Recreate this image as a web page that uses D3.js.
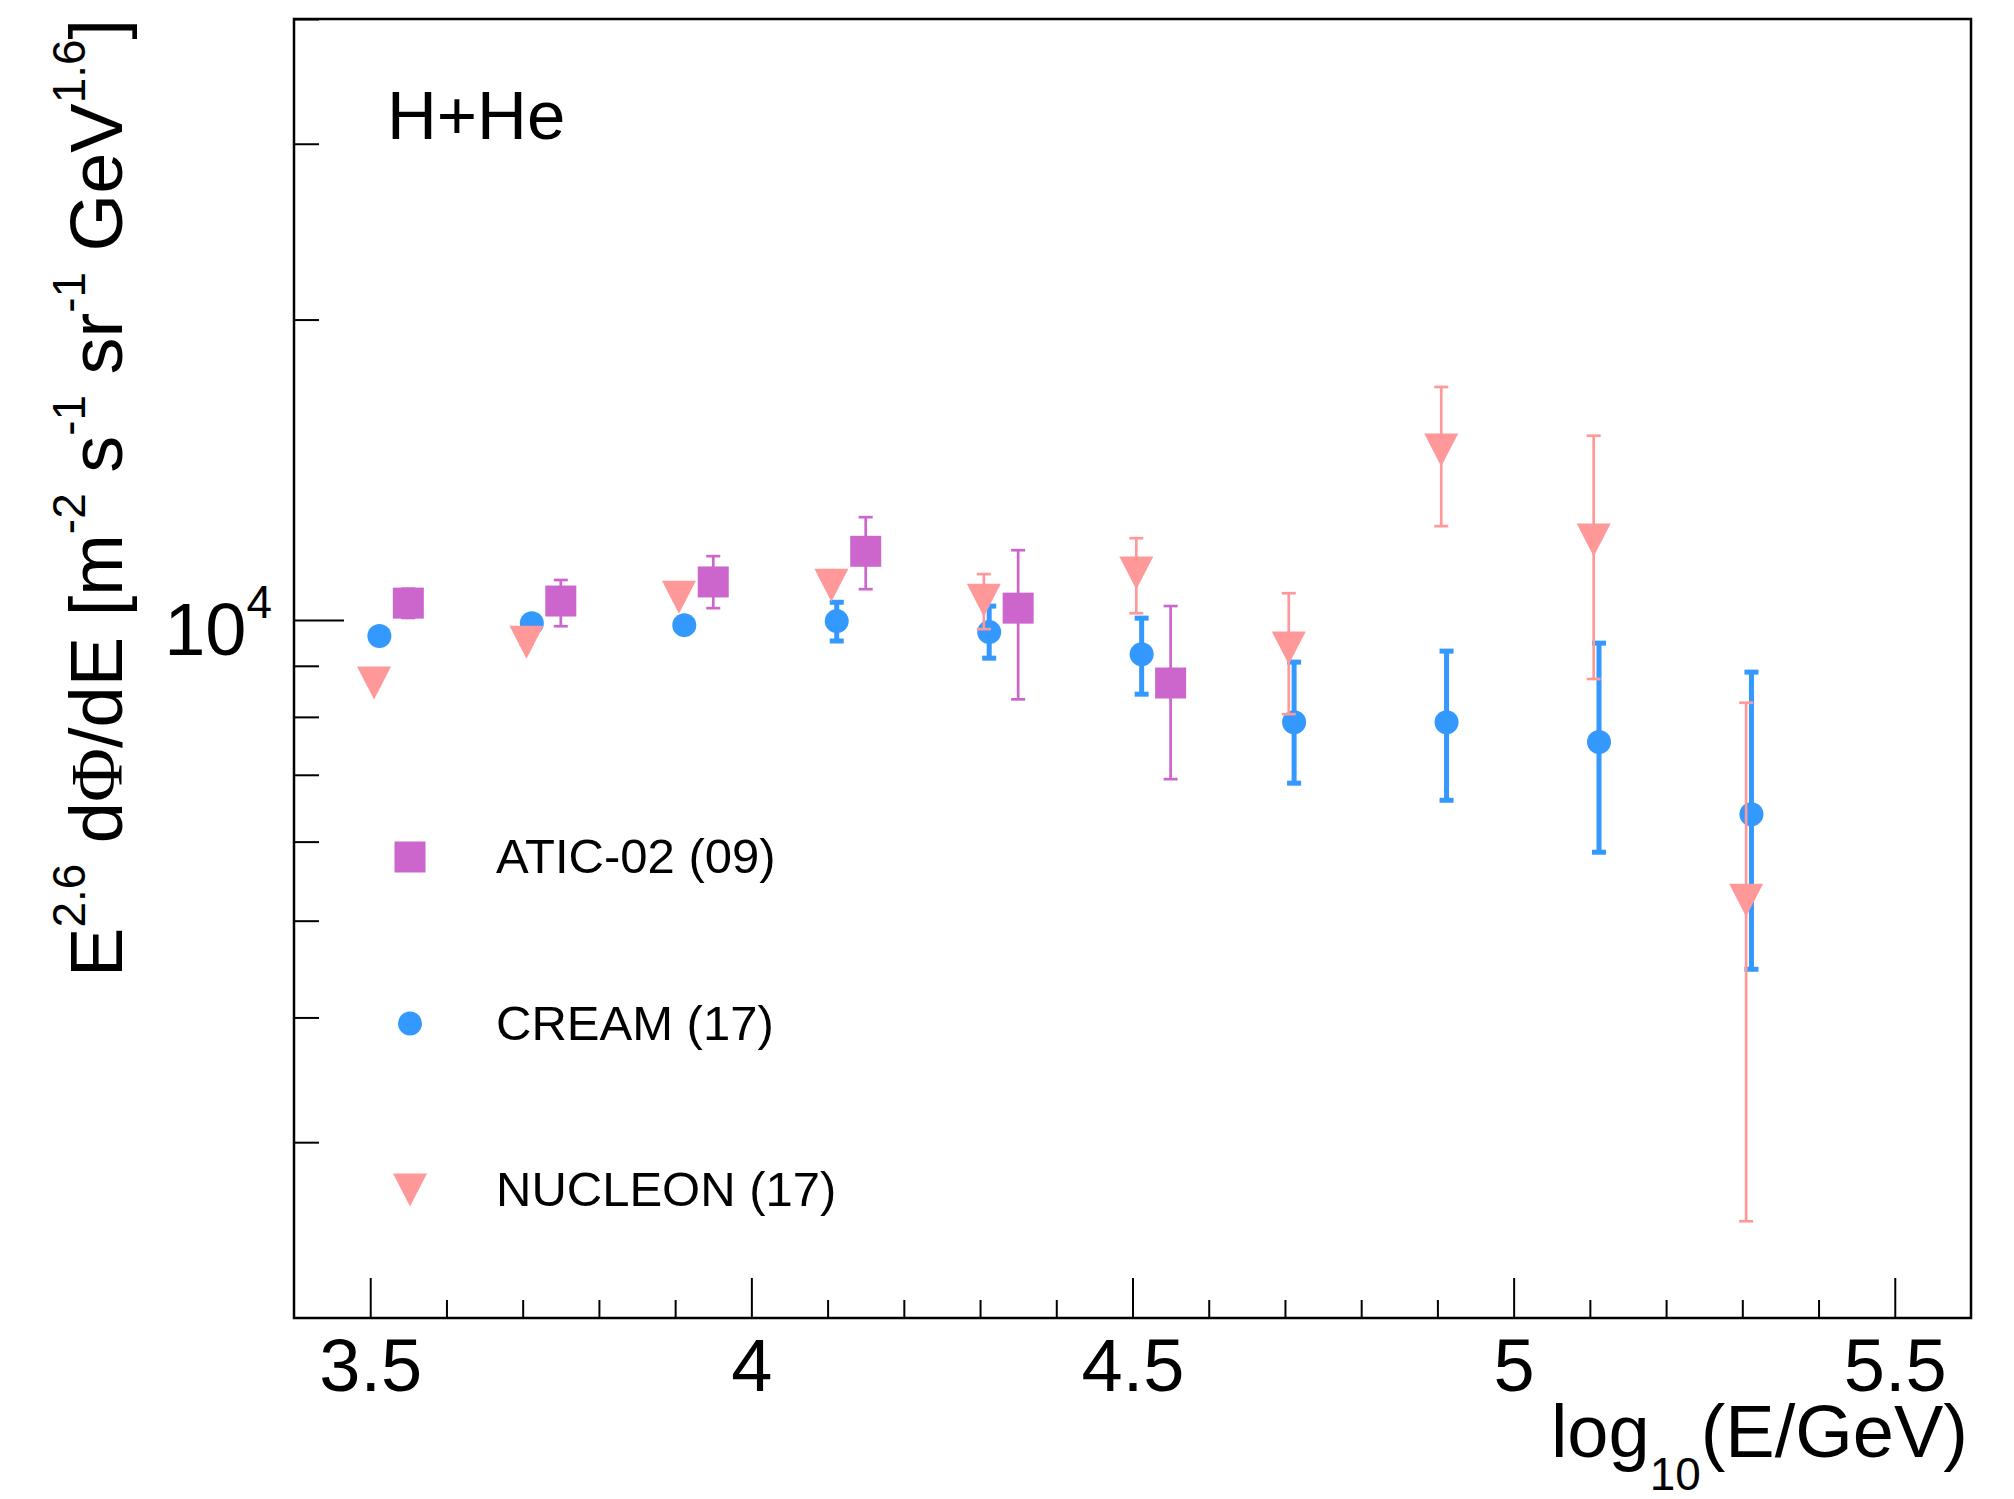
<!DOCTYPE html>
<html>
<head>
<meta charset="utf-8">
<script src="https://cdn.jsdelivr.net/npm/d3@7"></script>
<style>
  body { margin: 0; background: #fff; }
  text { font-family: "Liberation Sans", Arial, sans-serif; fill: #000; white-space: pre; }
</style>
</head>
<body>
<div id="chart"></div>
<script>
// ---- data ----
const xTicksMajor = [3.5, 4, 4.5, 5, 5.5];
const xTicksMinor = [3.6, 3.7, 3.8, 3.9, 4.1, 4.2, 4.3, 4.4, 4.6, 4.7, 4.8, 4.9, 5.1, 5.2, 5.3, 5.4];
const yTicksMajor = [10000];
const yTicksMinor = [3000, 4000, 5000, 6000, 7000, 8000, 9000, 20000, 30000, 40000];

const aticX = [3.55, 3.75, 3.95, 4.15, 4.35, 4.55];
const aticY = [10400, 10450, 10920, 11720, 10280, 8650];
const aticHi = [10750, 10970, 11590, 12680, 11750, 10330];
const aticLo = [10050, 9860, 10280, 10740, 8330, 6930];

const creamX = [3.512, 3.712, 3.912, 4.112, 4.312, 4.512, 4.712, 4.912, 5.112, 5.312];
const creamY = [9640, 9930, 9885, 9977, 9727, 9245, 7900, 7900, 7550, 6390];
const creamHi = [9800, 10080, 10040, 10420, 10328, 10046, 9077, 9310, 9483, 8870];
const creamLo = [9480, 9780, 9730, 9530, 9160, 8430, 6866, 6600, 5855, 4470];

const nucX = [3.505, 3.705, 3.905, 4.105, 4.305, 4.505, 4.705, 4.905, 5.105, 5.305];
const nucY = [8650, 9500, 10540, 10840, 10470, 11145, 9375, 14800, 12030, 5240];
const nucHi = [8780, 9640, 10700, 11000, 11120, 12080, 10640, 17120, 15300, 8265];
const nucLo = [8600, 9450, 10480, 10780, 9795, 10160, 8050, 12420, 8730, 2500];

const series = [
  { name: "ATIC-02 (09)", color: "#cc66cc", marker: "square", lw: 2.7, x: aticX, y: aticY, hi: aticHi, lo: aticLo },
  { name: "CREAM (17)", color: "#3399ff", marker: "circle", lw: 5, x: creamX, y: creamY, hi: creamHi, lo: creamLo },
  { name: "NUCLEON (17)", color: "#ff9999", marker: "triangle", lw: 2.7, x: nucX, y: nucY, hi: nucHi, lo: nucLo },
];

// ---- dimensions ----
const W = 2014, H = 1499;
const margin = { top: 19, right: 43, bottom: 181, left: 294 },
  width = W - margin.left - margin.right,
  height = H - margin.top - margin.bottom;
const fs = 74;

const svg = d3
  .select("#chart")
  .append("svg")
  .attr("width", W)
  .attr("height", H)
  .append("g")
  .attr("transform", `translate(${margin.left},${margin.top})`);

const x = d3.scaleLinear().domain([3.4, 5.6]).range([0, width]);
const y = d3.scaleLog().domain([2000, 40000]).range([height, 0]);

// text with ROOT-like super/subscripts
function richText(sel, parts, size) {
  let shift = 0;
  parts.forEach((p) => {
    const target = p.sup ? -0.5 * size : p.sub ? 0.44 * size : 0;
    sel
      .append("tspan")
      .attr("font-size", p.sup || p.sub ? size * 0.62 : size)
      .attr("dy", target - shift)
      .text(p.t);
    shift = target;
  });
}

// ---- axes ----
const xMinor = svg
  .append("g")
  .attr("transform", `translate(0,${height})`)
  .call(d3.axisBottom(x).tickValues(xTicksMinor).tickSizeInner(-18).tickSizeOuter(0).tickFormat(""));
const xMajor = svg
  .append("g")
  .attr("transform", `translate(0,${height})`)
  .call(d3.axisBottom(x).tickValues(xTicksMajor).tickSizeInner(-40).tickSizeOuter(0).tickPadding(20).tickFormat(d3.format("")));
xMajor.selectAll("text").attr("font-size", fs).attr("font-family", "Liberation Sans");

const yMinor = svg
  .append("g")
  .call(d3.axisLeft(y).tickValues(yTicksMinor).tickSizeInner(-25).tickSizeOuter(0).tickFormat(""));
const yMajor = svg
  .append("g")
  .call(d3.axisLeft(y).tickValues(yTicksMajor).tickSizeInner(-50).tickSizeOuter(0).tickPadding(22).tickFormat(""));
yMajor
  .selectAll(".tick text")
  .attr("dy", null)
  .attr("y", 34)
  .attr("font-family", "Liberation Sans")
  .each(function () {
    richText(d3.select(this), [{ t: "10" }, { t: "4", sup: true }], fs);
  });

[xMinor, xMajor, yMinor, yMajor].forEach((g) => {
  g.select(".domain").remove();
  g.selectAll(".tick line").attr("stroke", "#000").attr("stroke-width", 2);
});

// frame
svg
  .append("rect")
  .attr("width", width)
  .attr("height", height)
  .attr("fill", "none")
  .attr("stroke", "#000")
  .attr("stroke-width", 2.5);

// ---- markers ----
const sq = 31, rad = 12, triW = 34, triH = 33;
function drawMarker(g, type, cx, cy, color) {
  if (type === "square") {
    g.append("rect").attr("x", cx - sq / 2).attr("y", cy - sq / 2).attr("width", sq).attr("height", sq).attr("fill", color);
  } else if (type === "circle") {
    g.append("circle").attr("cx", cx).attr("cy", cy).attr("r", rad).attr("fill", color);
  } else {
    g.append("path")
      .attr("d", `M${cx - triW / 2},${cy - triH / 2}L${cx + triW / 2},${cy - triH / 2}L${cx},${cy + triH / 2}Z`)
      .attr("fill", color);
  }
}

// ---- data points with error bars ----
const capW = 14;
series.forEach((s) => {
  const g = svg.append("g");
  s.x.forEach((xv, i) => {
    const cx = x(xv);
    const yh = y(s.hi[i]), yl = y(s.lo[i]);
    g.append("line").attr("x1", cx).attr("x2", cx).attr("y1", yh).attr("y2", yl)
      .attr("stroke", s.color).attr("stroke-width", s.lw);
    [yh, yl].forEach((yy) => {
      g.append("line").attr("x1", cx - capW / 2).attr("x2", cx + capW / 2).attr("y1", yy).attr("y2", yy)
        .attr("stroke", s.color).attr("stroke-width", s.lw);
    });
  });
  s.x.forEach((xv, i) => drawMarker(g, s.marker, x(xv), y(s.y[i]), s.color));
});

// ---- legend ----
const legend = svg.append("g").attr("transform", "translate(116,838)");
series.forEach((s, i) => {
  const ly = i * 166.5;
  drawMarker(legend, s.marker, 0, ly, s.color);
  legend.append("text").attr("x", 86).attr("y", ly + 16).attr("font-size", 49).text(s.name);
});

// label in the corner
svg.append("text").attr("x", 93).attr("y", 120).attr("font-size", 69).text("H+He");

// ---- axis titles ----
const xTitle = svg.append("text").attr("x", width - 3).attr("y", 1438).attr("text-anchor", "end");
richText(xTitle, [{ t: "log" }, { t: "10", sub: true }, { t: "(E/GeV)" }], fs);

const yTitle = svg
  .append("text")
  .attr("transform", "translate(-172,0) rotate(-90)")
  .attr("text-anchor", "end");
richText(
  yTitle,
  [
    { t: "E" }, { t: "2.6", sup: true }, { t: " d" }, { t: "Φ" }, { t: "/dE [m" },
    { t: "-2", sup: true }, { t: " s" }, { t: "-1", sup: true }, { t: " sr" },
    { t: "-1", sup: true }, { t: " GeV" }, { t: "1.6", sup: true }, { t: "]" },
  ],
  fs
);
yTitle.selectAll("tspan").filter((d, i) => i === 3).attr("font-family", "Liberation Serif");
</script>
</body>
</html>
